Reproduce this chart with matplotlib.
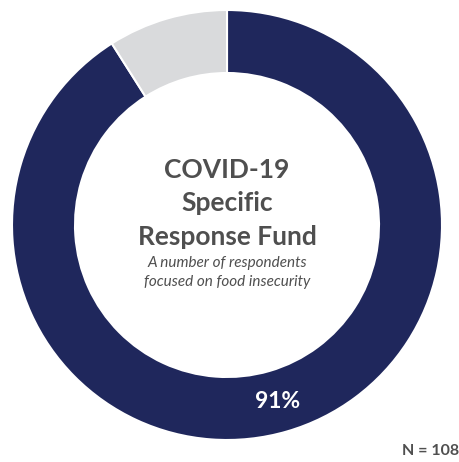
import numpy as np
import matplotlib
matplotlib.use("Agg")
import matplotlib.pyplot as plt

# Share of respondents
labels = ["Focused on food insecurity", "Other"]
shares = [91, 9]
colors = ["#1F275C", "#D9DADC"]

title_lines = ["COVID-19", "Specific", "Response Fund"]
subtitle_lines = ["A number of respondents", "focused on food insecurity"]
n_label = "N = 108"

W, H = 460, 462
fig = plt.figure(figsize=(W / 100, H / 100), dpi=100)
ax = fig.add_axes([0, 0, 1, 1])
ax.set_xlim(0, W)
ax.set_ylim(0, H)
ax.set_aspect("equal")
ax.axis("off")

cx, cy = 227, H - 225
r_out, r_in = 215, 152

ax.pie(shares, colors=colors, startangle=90, counterclock=False,
       radius=r_out, center=(cx, cy),
       wedgeprops=dict(width=r_out - r_in, edgecolor="white", linewidth=1.5))
ax.set_xlim(0, W)
ax.set_ylim(0, H)

font = "Lato"
text_color = "#4F4F4F"
y_lines = [H - 170, H - 203, H - 237]
for txt, y in zip(title_lines, y_lines):
    ax.text(cx, y, txt, ha="center", va="center", fontsize=19,
            fontweight="bold", color=text_color, family=font)
for txt, y in zip(subtitle_lines, [H - 263, H - 282]):
    ax.text(cx, y, txt, ha="center", va="center", fontsize=11,
            style="italic", color=text_color, family=font)

# value label placed in the lower part of the ring
ang = np.deg2rad(-74)
rm = (r_out + r_in) / 2
ax.text(cx + rm * np.cos(ang), cy + rm * np.sin(ang), f"{shares[0]}%",
        ha="center", va="center", fontsize=16.5, fontweight="bold",
        color="white", family=font)

ax.text(459, H - 451, n_label, ha="right", va="center", fontsize=11.5,
        fontweight="bold", color=text_color, family=font)

fig.savefig("out.png", dpi=100)
